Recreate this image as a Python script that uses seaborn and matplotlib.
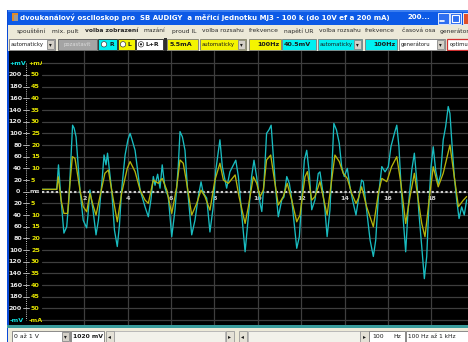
import matplotlib
matplotlib.use("Agg")
import matplotlib.pyplot as plt
import pandas as pd
import seaborn as sns
from matplotlib.patches import Rectangle, Circle

sns.set_theme(style="dark")
plt.rcParams['font.family'] = ['DejaVu Sans']

# ---- channel R: voltage trace (ms, mV) ----
r_time = [0.04, 0.73, 0.81, 0.93, 1.06, 1.19, 1.29, 1.46, 1.53, 1.62,
          1.80, 1.95, 2.11, 2.17, 2.26, 2.40, 2.54, 2.65, 2.82, 2.91,
          3.00, 3.07, 3.26, 3.39, 3.52, 3.62, 3.72, 3.88, 4.01, 4.11,
          4.20, 4.34, 4.57, 4.80, 4.95, 5.07, 5.18, 5.26, 5.38, 5.49,
          5.59, 5.72, 5.87, 6.03, 6.18, 6.33, 6.41, 6.52, 6.64, 6.76,
          6.95, 7.10, 7.25, 7.38, 7.48, 7.64, 7.79, 7.94, 8.06, 8.25,
          8.36, 8.56, 8.71, 8.87, 8.98, 9.10, 9.25, 9.41, 9.56, 9.71,
          9.82, 9.94, 10.10, 10.18, 10.28, 10.40, 10.51, 10.61, 10.71, 10.82,
          10.94, 11.10, 11.20, 11.33, 11.45, 11.56, 11.71, 11.79, 11.91, 12.02,
          12.14, 12.25, 12.37, 12.48, 12.63, 12.78, 12.86, 12.98, 13.09, 13.19,
          13.32, 13.40, 13.50, 13.62, 13.75, 13.86, 13.98, 14.12, 14.24, 14.36,
          14.52, 14.63, 14.78, 14.86, 15.01, 15.17, 15.32, 15.43, 15.55, 15.71,
          15.86, 16.01, 16.13, 16.29, 16.40, 16.50, 16.59, 16.70, 16.81, 16.93,
          17.09, 17.21, 17.32, 17.42, 17.55, 17.67, 17.78, 17.89, 17.98, 18.08,
          18.19, 18.31, 18.42, 18.54, 18.65, 18.77, 18.85, 18.93, 19.05, 19.16,
          19.27, 19.39, 19.51, 19.62]
r_mv = [4, 4, 46, -14, -71, -60, -14, 114, 109, 94,
        3, -49, -62, -40, 3, -31, -74, -49, 20, 63,
        46, 66, 3, -66, -94, -57, 3, 63, 89, 100,
        89, 71, 3, -26, -43, -14, 26, 11, 30, 6,
        46, 6, -9, -77, -31, 43, 103, 94, 71, 3,
        -74, -49, -9, 17, -2, -11, -69, -26, 37, 89,
        43, 6, 34, 46, 54, 26, -37, -103, -43, 26,
        54, 26, -20, -34, 14, 100, 106, 114, 60, 3,
        -43, -14, -9, 26, 14, -14, -69, -97, -77, -14,
        54, 71, 31, -31, -14, 31, 34, 3, -31, -77,
        -31, 31, 117, 106, 83, 43, 26, 40, 9, -14,
        -40, -14, 20, 17, -31, -83, -111, -83, -9, 43,
        34, 43, 77, 100, 114, 77, 14, -49, -103, -26,
        37, 66, 20, -37, -94, -149, -111, -14, 43, 77,
        37, 14, 29, 89, 111, 146, 134, 89, 26, -14,
        -46, -26, -40, -14]

# ---- channel L: current trace (ms, mA) ----
l_time = [0.04, 0.73, 0.80, 0.93, 1.06, 1.23, 1.34, 1.45, 1.57, 1.68,
          1.80, 1.95, 2.11, 2.26, 2.40, 2.54, 2.72, 2.95, 3.11, 3.26,
          3.52, 3.72, 3.98, 4.11, 4.34, 4.57, 4.80, 4.95, 5.18, 5.41,
          5.59, 5.80, 6.03, 6.26, 6.41, 6.56, 6.72, 6.95, 7.18, 7.38,
          7.56, 7.79, 8.02, 8.25, 8.41, 8.64, 8.95, 9.13, 9.41, 9.56,
          9.79, 9.94, 10.10, 10.25, 10.40, 10.59, 10.74, 10.94, 11.17, 11.35,
          11.56, 11.79, 11.94, 12.17, 12.28, 12.48, 12.63, 12.86, 13.19, 13.40,
          13.55, 13.75, 13.93, 14.12, 14.32, 14.52, 14.63, 14.78, 15.01, 15.32,
          15.55, 15.71, 15.94, 16.16, 16.40, 16.59, 16.81, 17.01, 17.21, 17.39,
          17.55, 17.70, 17.89, 18.08, 18.31, 18.54, 18.85, 19.05, 19.24, 19.47,
          19.62]
l_ma = [1.0, 1.0, 6.4, -3.6, -9.3, -9.3, 3.6, 15.0, 14.3, 7.9,
        0.7, -6.4, -8.6, -0.7, -5.7, -10.0, -2.1, 7.9, 9.3, 0.7,
        -12.9, -0.7, 10.0, 12.9, 8.6, 0.7, -3.6, -5.0, 5.0, 3.6,
        5.7, 0.7, -9.3, 2.1, 13.6, 12.2, 3.6, -10.0, -5.0, 0.7,
        -2.1, -7.9, 5.0, 12.2, 5.0, 3.6, 7.2, -2.1, -13.6, -6.4,
        6.4, 3.7, -2.1, 0.7, 13.6, 15.7, 6.4, -5.7, -2.1, 3.6,
        -3.6, -12.9, -10.0, 6.4, 8.6, -3.6, -2.1, 4.3, -10.0, 5.0,
        15.7, 12.9, 7.9, 5.7, -0.7, -5.0, -2.8, 2.1, -6.4, -15.0,
        -0.7, 5.7, 4.3, 10.7, 15.0, 3.6, -13.6, -2.1, 7.9, -3.6,
        -13.6, -19.3, -3.6, 10.7, 2.1, 7.9, 20.0, 6.4, -6.4, -3.6,
        -2.1]

# ---- scale labels ----
mv_levels = [200, 180, 160, 140, 120, 100, 80, 60, 40, 20, 0,
             -20, -40, -60, -80, -100, -120, -140, -160, -180, -200]
mv_labels = ["200", "180", "160", "140", "120", "100", "80", "60", "40", "20", "0",
             "20", "40", "60", "80", "100", "120", "140", "160", "180", "200"]
ma_labels = ["50", "45", "40", "35", "30", "25", "20", "15", "10", "5", "ms",
             "5", "10", "15", "20", "25", "30", "35", "40", "45", "50"]
ms_ticks = [2, 4, 6, 8, 10, 12, 14, 16, 18]
ms_labels = ["2", "4", "6", "8", "10", "12", "14", "16", "18"]

CYAN = "#19bcc0"
YELLOW = "#b4b40c"
BEIGE = "#ece9d8"

W, H = 468, 342
fig = plt.figure(figsize=(W / 100, H / 100), dpi=100)
fig.patch.set_facecolor("white")

# full-window drawing surface in pixel units
ui = fig.add_axes([0, 0, 1, 1])
ui.set_xlim(0, W)
ui.set_ylim(H, 0)
ui.axis("off")


def box(x0, y0, x1, y1, fc, ec="none", lw=0.6, z=1):
    ui.add_patch(Rectangle((x0, y0), x1 - x0, y1 - y0, fc=fc, ec=ec, lw=lw, zorder=z))


def label(x, y, s, color="#1a1a1a", size=4.4, weight="normal", ha="left", z=3):
    ui.text(x, y, s, color=color, fontsize=size, fontweight=weight,
            ha=ha, va="center", zorder=z)


def combo(x0, x1, y0, y1, fc, txt, size=3.8):
    yc = (y0 + y1) / 2
    box(x0, y0, x1, y1, fc, ec="#7a7a7a")
    label(x0 + 1.5, yc, txt, size=size)
    box(x1 - 8, y0 + 1, x1 - 1, y1 - 1, "#d4d0c8", ec="#888888", z=2)
    label(x1 - 4.5, yc, "▾", size=4.0, ha="center")


# window frame
box(7, 10, W, H, "#0a4ad8")
# title bar
box(8, 10, W, 24.5, "#0d5ae6")
box(8, 10, W, 12, "#3b7ef0")
box(11.5, 13, 17.5, 21, "#e08a2a")
box(13.5, 15, 17.5, 21, "#9a9a9a")
label(20, 17.4, "dvoukanálový osciloskop pro  SB AUDIGY  a měřicí jednotku MJ3 - 100 k (do 10V ef a 200 mA)",
      color="white", size=5.0, weight="bold")
label(407, 17.4, "200...", color="white", size=5.0, weight="bold")
for bx, col in [(437.5, "#2f6ff0"), (450, "#2f6ff0"), (462.5, "#e0502a")]:
    box(bx, 12.5, bx + 11, 23.5, col, ec="white", lw=0.6, z=2)
ui.plot([439.5, 444], [21, 21], color="white", lw=1.2, zorder=3)
box(452, 14.5, 459, 21.5, "none", ec="white", lw=0.8, z=3)

# menu bar
box(8, 24.5, W, 37.5, BEIGE)
menu = [(17, "spouštění", "normal"), (52, "mix. pult", "normal"),
        (85, "volba zobrazení", "bold"), (144, "mazání", "normal"),
        (172, "proud IL", "normal"), (202, "volba rozsahu", "normal"),
        (249, "frekvence", "normal"), (284, "napětí UR", "normal"),
        (319, "volba rozsahu", "normal"), (365, "frekvence", "normal"),
        (402, "časová osa", "normal"), (440, "generátor", "normal")]
for mx, txt, wt in menu:
    label(mx, 31, txt, size=4.3, weight=wt, color="#2a2a2a")

# toolbar
box(8, 37.5, W, 50.5, BEIGE)
TY0, TY1, TY = 39, 49.5, 44.3

combo(9, 55, TY0, TY1, "white", "automaticky")
box(58, TY0, 97, TY1, "#a4a4a4", ec="#5a5a5a")
label(77.5, TY, "pozastavit", color="#dcdcdc", size=3.8, ha="center")
box(98, TY0, 117, TY1, "#00f0f0", ec="#202020")
ui.add_patch(Circle((104, TY), 2.7, fc="white", ec="#404040", lw=0.5, zorder=3))
label(109.5, TY, "R", size=4.4, weight="bold")
box(118, TY0, 135, TY1, "#f4f400", ec="#202020")
ui.add_patch(Circle((123, TY), 2.7, fc="white", ec="#404040", lw=0.5, zorder=3))
label(128, TY, "L", size=4.4, weight="bold")
box(136, TY0, 163, TY1, "white", ec="#202020")
ui.add_patch(Circle((141, TY), 2.7, fc="white", ec="#404040", lw=0.5, zorder=3))
ui.add_patch(Circle((141, TY), 1.1, fc="#202020", ec="none", zorder=4))
label(146, TY, "L+R", size=4.4, weight="bold")
box(163.5, 38, 166.5, 50.5, "#303030")
box(167, TY0, 198, TY1, "#f4f400", ec="#7a7a7a")
label(170, TY, "5.5mA", size=4.6, weight="bold")
combo(200, 246, TY0, TY1, "#f4f400", "automaticky")
box(249, TY0, 281, TY1, "#f4f400", ec="#7a7a7a")
label(279, TY, "100Hz", size=4.6, weight="bold", ha="right")
box(282, TY0, 316, TY1, "#00f0f0", ec="#7a7a7a")
label(284, TY, "40.5mV", size=4.6, weight="bold")
combo(318, 362, TY0, TY1, "#00f0f0", "automaticky")
box(365, TY0, 397, TY1, "#00f0f0", ec="#7a7a7a")
label(395, TY, "100Hz", size=4.6, weight="bold", ha="right")
combo(399, 445, TY0, TY1, "white", "generátoru")
box(447, TY0, 472, TY1, "white", ec="#d03030", lw=0.9)
label(449.5, TY, "optimu", size=3.8)

# black display area incl. scale column
box(9, 50.5, W, 325, "black")
# teal separator and status bar
box(7, 325, W, 327.5, "#3a9c9c")
box(8, 327.5, W, H, BEIGE)
SY0, SY1, SY = 331, 342, 336.8
combo(12, 70, SY0, SY1, "white", "0 až 1 V", size=4.4)
box(71, SY0, 104, SY1, "white", ec="#7a7a7a")
label(73, SY, "1020 mV", size=4.4, weight="bold")
box(113, SY0, 225, SY1, "#f2f1ea", ec="#b0b0b0")
box(248, SY0, 360, SY1, "#f2f1ea", ec="#b0b0b0")
for bx, arrow in [(105.5, "◂"), (225.5, "▸"), (238.5, "◂"), (360, "▸")]:
    box(bx, SY0, bx + 8.5, SY1, "#e4e1d6", ec="#9a9a9a")
    label(bx + 4.3, SY, arrow, size=4.2, ha="center")
box(369, SY0, 405, SY1, "white", ec="#7a7a7a")
label(372, SY, "100", size=4.4)
label(393, SY, "Hz", size=4.4)
box(406, SY0, 470, SY1, "white", ec="#7a7a7a")
label(408, SY, "100 Hz až 1 kHz", size=4.2)

# ---- oscilloscope plot ----
ZERO_Y = 191.7          # pixel row of 0 mV
PX_PER_MV = 11.67 / 20  # vertical scale
X0_PX, PX_PER_MS = 40.9, 21.7
left_px, right_px, top_px, bot_px = 42, W, 50.5, 325

ax = fig.add_axes([left_px / W, (H - bot_px) / H,
                   (right_px - left_px) / W, (bot_px - top_px) / H])
ax.set_facecolor("black")
xlim = ((left_px - X0_PX) / PX_PER_MS, (right_px - X0_PX) / PX_PER_MS)
ylim = (-(bot_px - ZERO_Y) / PX_PER_MV, (ZERO_Y - top_px) / PX_PER_MV)
ax.set_xlim(*xlim)
ax.set_ylim(*ylim)
ax.set_yticks(range(-220, 221, 20))
ax.set_xticks(ms_ticks)
ax.grid(True, color="#3e3e3e", lw=0.9)
ax.tick_params(labelleft=False, labelbottom=False, length=0)
for s in ax.spines.values():
    s.set_visible(False)

ax.axhline(0, color="#cfcfcf", lw=1.5, ls=(0, (1.1, 1.1)), zorder=2)
for t, s in zip(ms_ticks, ms_labels):
    ax.text(t, -11, s, color="#d0d0d0", fontsize=4.6, fontweight="bold",
            ha="center", va="center", zorder=2)

r_df = pd.DataFrame({"ms": r_time, "mV": r_mv})
sns.lineplot(data=r_df, x="ms", y="mV", ax=ax, color=CYAN, lw=0.95,
             estimator=None, sort=False, zorder=3)
ax.set_xlabel("")
ax.set_ylabel("")

# current channel on its own scale (5 mA per 20 mV division)
ax2 = ax.twinx()
ax2.set_ylim(ylim[0] / 4, ylim[1] / 4)
l_df = pd.DataFrame({"ms": l_time, "mA": l_ma})
sns.lineplot(data=l_df, x="ms", y="mA", ax=ax2, color=YELLOW, lw=0.95,
             estimator=None, sort=False)
ax2.set_ylabel("")
ax2.set_xlabel("")
ax2.grid(False)
ax2.tick_params(labelright=False, length=0)
for s in ax2.spines.values():
    s.set_visible(False)
ax.set_xlim(*xlim)


# ---- scale column at left ----
def level_y(v):
    return ZERO_Y - v * PX_PER_MV


ui.plot([25.5, 25.5], [level_y(220), level_y(-220)], color="#c8c8c8",
        lw=0.7, ls=(0, (1, 1.2)), zorder=3)
for v, smv, sma in zip(mv_levels, mv_labels, ma_labels):
    y = level_y(v)
    ui.plot([22.5, 28.5], [y, y], color="#c8c8c8", lw=0.6, zorder=3)
    if v == 0:
        label(18, y, smv, color="#e0e0e0", size=4.6, weight="bold", ha="center")
        label(30, y, sma, color="#d8d8d8", size=4.6, weight="bold")
    else:
        label(22, y, smv, color="#e8e8e8", size=4.6, weight="bold", ha="right")
        label(31, y, sma, color="#e6e600", size=4.6, weight="bold")
label(9.5, level_y(220), "+mV", color="#10e0e0", size=4.6, weight="bold")
label(28, level_y(220), "+mA", color="#e6e600", size=4.6, weight="bold")
label(9.5, level_y(-220), "-mV", color="#10e0e0", size=4.6, weight="bold")
label(29, level_y(-220), "-mA", color="#e6e600", size=4.6, weight="bold")
for v in (220, -220):
    ui.plot([41, 42], [level_y(v), level_y(v)], color="#3e3e3e", lw=0.9, zorder=2)

fig.savefig("out.png", dpi=100, facecolor=fig.get_facecolor())
